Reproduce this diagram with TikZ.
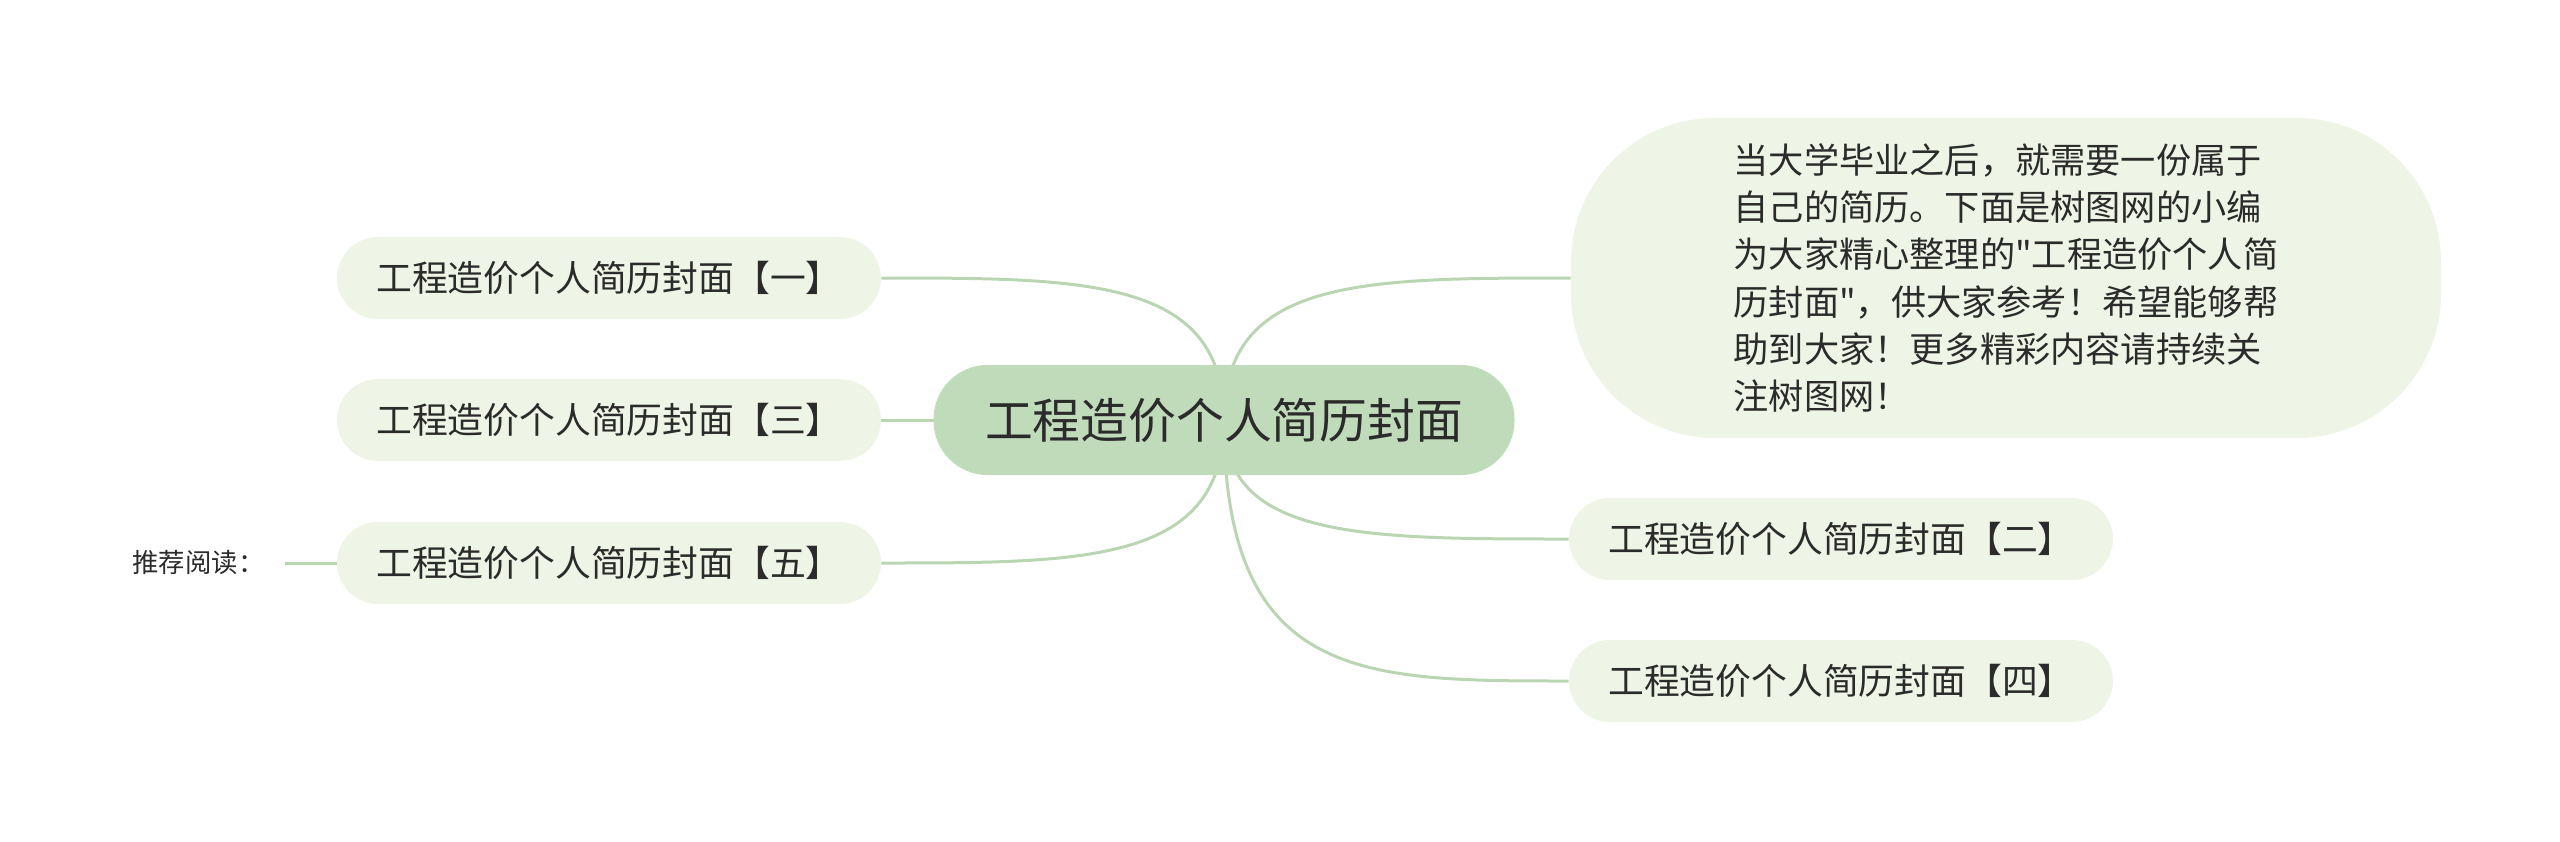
\documentclass[tikz,border=0pt]{standalone}
\usepackage{fontspec}
\setmainfont{Noto Sans CJK SC}[Ligatures=TeXOff]
\usetikzlibrary{calc}
\definecolor{centerfill}{HTML}{C0DBBA}
\definecolor{leaffill}{HTML}{EFF5E6}
\definecolor{linecol}{HTML}{BAD5B2}
\definecolor{txt}{HTML}{2B2B2B}
\pgfdeclarelayer{bg}
\pgfsetlayers{bg,main}
\begin{document}
\begin{tikzpicture}[x=0.5pt,y=-0.5pt,
  centerbox/.style={fill=centerfill,rounded corners=27pt,minimum width=290.5pt,minimum height=55pt,inner sep=0pt,text=txt,font=\fontsize{23.9pt}{28pt}\selectfont},
  leafbox/.style={fill=leaffill,rounded corners=20.5pt,minimum width=272pt,minimum height=41pt,inner sep=0pt,text=txt,font=\fontsize{17.9pt}{22pt}\selectfont},
  bubble/.style={fill=leaffill,rounded corners=72pt,minimum width=435pt,minimum height=160pt,inner sep=0pt,text=txt,align=left,font=\fontsize{17.6pt}{23.65pt}\selectfont},
  smalltext/.style={inner sep=0pt,text=txt,font=\fontsize{13.2pt}{16pt}\selectfont},
  conn/.style={draw=linecol,line width=1.5pt}]
\useasboundingbox (0,0) rectangle (2560,841);
\node[centerbox] (c) at (1224,420) {工程造价个人简历封面};
\node[leafbox] (n1) at (609,278) {工程造价个人简历封面【一】};
\node[leafbox] (n3) at (609,420) {工程造价个人简历封面【三】};
\node[leafbox] (n5) at (609,563) {工程造价个人简历封面【五】};
\node[leafbox] (n2) at (1841,539) {工程造价个人简历封面【二】};
\node[leafbox] (n4) at (1841,681) {工程造价个人简历封面【四】};
\node[bubble] (b) at (2006,278) {当大学毕业之后，就需要一份属于\\自己的简历。下面是树图网的小编\\为大家精心整理的"工程造价个人简\\历封面"，供大家参考！希望能够帮\\助到大家！更多精彩内容请持续关\\注树图网！};
\node[smalltext,anchor=west] (r) at (132,563) {推荐阅读：};
\coordinate (rl) at (285,563);
\begin{pgfonlayer}{bg}
\draw[conn] (c.center) .. controls (c.center |- n1.east) and ($(n1.east)!0.6!(c.center |- n1.east)$) .. (n1.east);
\draw[conn] (c.center) -- (n3.east);
\draw[conn] (c.center) .. controls (c.center |- n5.east) and ($(n5.east)!0.6!(c.center |- n5.east)$) .. (n5.east);
\draw[conn] (c.center) .. controls (c.center |- b.west) and ($(b.west)!0.6!(c.center |- b.west)$) .. (b.west);
\draw[conn] (c.center) .. controls (c.center |- n2.west) and ($(n2.west)!0.6!(c.center |- n2.west)$) .. (n2.west);
\draw[conn] (c.center) .. controls (c.center |- n4.west) and ($(n4.west)!0.6!(c.center |- n4.west)$) .. (n4.west);
\draw[conn] (rl) -- (n5.west);
\end{pgfonlayer}
\end{tikzpicture}
\end{document}
